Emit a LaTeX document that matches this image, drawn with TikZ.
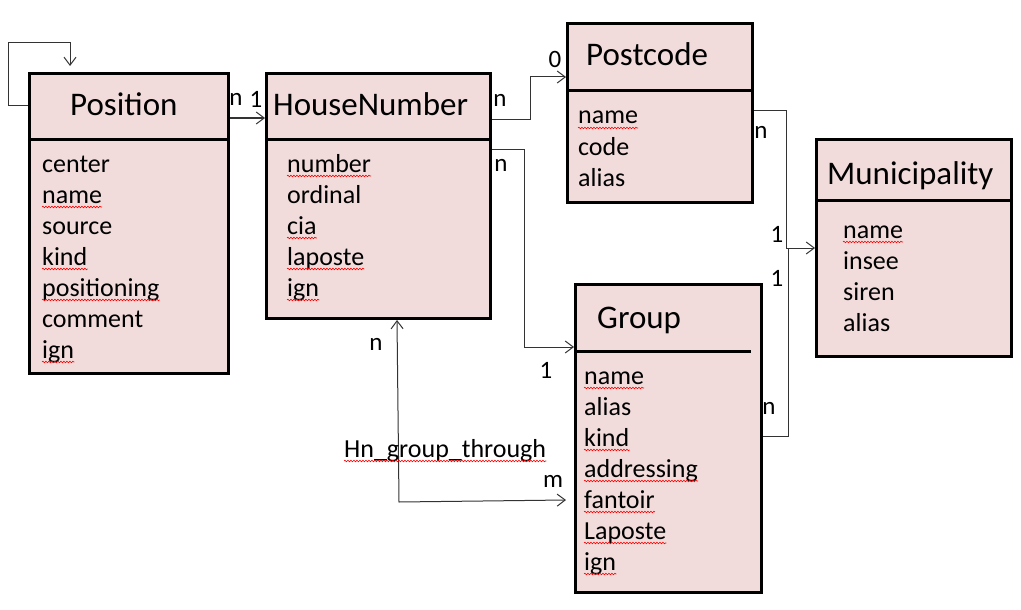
\documentclass[tikz,border=0pt]{standalone}
\usepackage{fontspec}
\setmainfont{Carlito}
\usetikzlibrary{arrows.meta,decorations.pathmorphing}
\definecolor{entityfill}{HTML}{F2DCDB}
\tikzset{entity/.style = {draw=black, line width=3pt, fill=entityfill,
                          anchor=north west, inner sep=0pt},
         divider/.style = {draw=black, line width=3pt},
         title/.style = {font=\fontsize{33}{33}\selectfont, anchor=base west, inner sep=0pt},
         attr/.style = {font=\fontsize{26}{26}\selectfont, anchor=base west, inner sep=0pt},
         card/.style = {font=\fontsize{25}{25}\selectfont, inner sep=0pt},
         link/.style = {draw=black!80, line width=1pt},
         tip/.style = {-{Straight Barb[length=8pt,width=12pt]}},
         spell/.style = {draw=red, line width=0.6pt, decorate,
                         decoration={snake, amplitude=0.8pt, segment length=3pt}}}

\begin{document}
\begin{tikzpicture}[x=1pt,y=-1pt]
    \useasboundingbox (0,0) rectangle (1021,610);

    % entities
    \node[entity, minimum width=199pt, minimum height=300pt] (position) at (28,72) {};
    \node[entity, minimum width=224pt, minimum height=245pt] (housenumber) at (265,72) {};
    \node[entity, minimum width=185pt, minimum height=179pt] (postcode) at (566,22) {};
    \node[entity, minimum width=195pt, minimum height=217pt] (municipality) at (815,138) {};
    \node[entity, minimum width=186pt, minimum height=308pt] (group) at (574,283) {};

    \draw[divider](28,139)--(227,139);
    \draw[divider](265,139)--(489,139);
    \draw[divider](566,91)--(751,91);
    \draw[divider](815,200)--(1010,200);
    \draw[divider](574,351)--(751,351);

    \node[title] (t-position) at (70,116) {Position};
    \node[title] (t-housenumber) at (273,116) {HouseNumber};
    \node[title] (t-postcode) at (586,66) {Postcode};
    \node[title] (t-municipality) at (827,184) {Municipality};
    \node[title] (t-group) at (597,328) {Group};

    % attributes (1 = spell check underline)
    \foreach \t/\s [count=\i] in {center/0,name/1,source/0,kind/1,positioning/1,comment/0,ign/1}{
        \node[attr] (pos-\i) at (42,{172+31*(\i-1)}) {\t};
        \ifnum\s=1 \draw[spell]([yshift=-4pt]pos-\i.base west)--([yshift=-4pt]pos-\i.base east);\fi
    }
    \foreach \t/\s [count=\i] in {number/1,ordinal/0,cia/1,laposte/1,ign/1}{
        \node[attr] (hn-\i) at (287,{172+31*(\i-1)}) {\t};
        \ifnum\s=1 \draw[spell]([yshift=-4pt]hn-\i.base west)--([yshift=-4pt]hn-\i.base east);\fi
    }
    \foreach \t/\s [count=\i] in {name/1,code/0,alias/0}{
        \node[attr] (pc-\i) at (578,{124+31*(\i-1)}) {\t};
        \ifnum\s=1 \draw[spell]([yshift=-4pt]pc-\i.base west)--([yshift=-4pt]pc-\i.base east);\fi
    }
    \foreach \t/\s [count=\i] in {name/1,insee/0,siren/0,alias/0}{
        \node[attr] (mun-\i) at (843,{238+31*(\i-1)}) {\t};
        \ifnum\s=1 \draw[spell]([yshift=-4pt]mun-\i.base west)--([yshift=-4pt]mun-\i.base east);\fi
    }
    \foreach \t/\s [count=\i] in {name/1,alias/0,kind/1,addressing/1,fantoir/1,Laposte/1,ign/1}{
        \node[attr] (grp-\i) at (584,{384+31*(\i-1)}) {\t};
        \ifnum\s=1 \draw[spell]([yshift=-4pt]grp-\i.base west)--([yshift=-4pt]grp-\i.base east);\fi
    }

    % relations
    \coordinate (join) at ([xshift=-27pt,yshift=-110pt]municipality.north west);
    \coordinate (bend) at (399,502);

    \draw[link,tip]([yshift=-34pt]position.north west)--++(-20,0)
        |-([xshift=42pt,yshift=29pt]position.north west)--([xshift=42pt,yshift=6pt]position.north west);
    \draw[link,tip]([yshift=-46pt]position.north east)--([yshift=-46pt]housenumber.north west);
    \draw[link,tip]([yshift=-47pt]housenumber.north east)--++(38,0)|-([yshift=-55pt]postcode.north west);
    \draw[link,tip]([yshift=-77pt]housenumber.north east)--++(32,0)|-([yshift=-64pt]group.north west);
    \draw[link,tip]([yshift=-89pt]postcode.north east)--++(32,0)|-([yshift=-110pt]municipality.north west);
    \draw[link]([yshift=-153pt]group.north east)-|(join);
    \draw[link,{Straight Barb[length=8pt,width=12pt]}-{Straight Barb[length=8pt,width=12pt]}]
        ([xshift=132pt]housenumber.south west)--(bend)--([xshift=-8pt,yshift=-217pt]group.north west);

    \node[card] (c-pos-n) at (236,99) {n};
    \node[card] (c-pos-1) at (256,99) {1};
    \node[card] (c-pc-n) at (500,100) {n};
    \node[card] (c-pc-0) at (555,59) {0};
    \node[card] (c-grp-n) at (501,165) {n};
    \node[card] (c-grp-1) at (546,370) {1};
    \node[card] (c-mun-n) at (761,132) {n};
    \node[card] (c-mun-1) at (777,234) {1};
    \node[card] (c-mun-1b) at (777,278) {1};
    \node[card] (c-gm-n) at (769,408) {n};
    \node[card] (c-hg-n) at (376,344) {n};
    \node[card] (c-hg-m) at (553,481) {m};
    \node[attr] (hn-group) at (344,457) {Hn\_group\_through};
    \draw[spell]([yshift=-4pt]hn-group.base west)--([yshift=-4pt]hn-group.base east);
\end{tikzpicture}
\end{document}
